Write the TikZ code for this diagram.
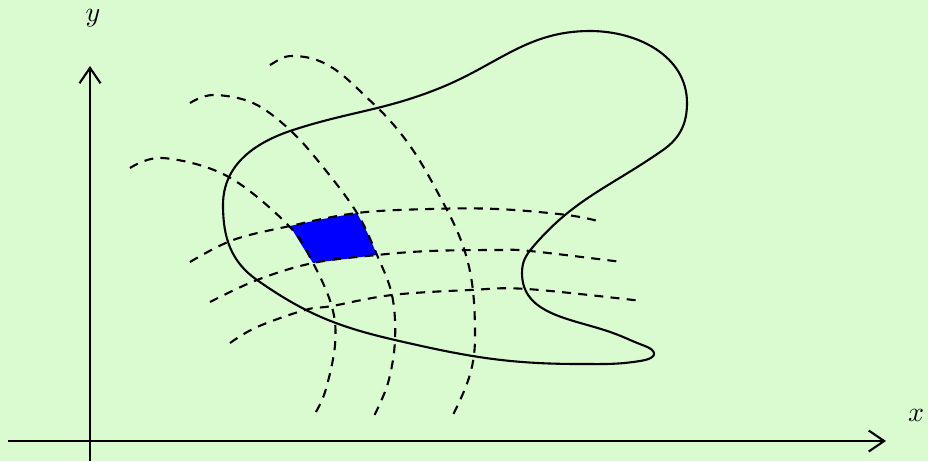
\documentclass[tikz,border=0pt]{standalone}
\usetikzlibrary{arrows.meta}
\definecolor{bgc}{RGB}{218,251,208}
\begin{document}
\begin{tikzpicture}[x=0.357pt,y=-0.357pt,
  curvestyle/.style={line width=0.75pt},
  gridline/.style={line width=0.75pt,dash pattern=on 3.2pt off 2.6pt},
  axisstyle/.style={line width=0.75pt,-{Straight Barb[length=5.5pt,width=7.5pt]}},
  lbl/.style={inner sep=0pt}]
\fill[bgc] (0,0) rectangle (928,461);
\useasboundingbox (0,0) rectangle (928,461);
% blue patch
\fill[blue] (290,226) -- (323,219) -- (357,213) -- (368,234) -- (377,255) -- (345,259) -- (313,263) -- (301,244) -- cycle;
% dashed "vertical" curves
\draw[gridline] plot[smooth,tension=0.6] coordinates {(130,168) (163,158) (227,176) (288,225) (313,263) (332,307) (335,345) (325,392) (313,417)};
\draw[gridline] plot[smooth,tension=0.6] coordinates {(190,103) (213,95) (253,103) (290,130) (323,167) (357,213) (377,255) (392,295) (395,340) (388,383) (373,418)};
\draw[gridline] (270,65) to[out=30,in=180] (292,56) to[out=0,in=138] (377,107) to[out=315,in=118] (447,210) to[out=298,in=90] (475,337) to[out=270,in=64] (451,419);
% dashed "horizontal" curves
\draw[gridline] plot[smooth,tension=0.6] coordinates {(190,262) (233,240) (290,226) (357,213) (430,209) (497,209) (567,215) (602,222)};
\draw[gridline] plot[smooth,tension=0.6] coordinates {(210,302) (257,280) (313,263) (377,255) (430,251) (497,250) (530,251) (622,262)};
\draw[gridline] plot[smooth,tension=0.6] coordinates {(230,343) (257,327) (305,310) (332,306) (392,295) (470,290) (527,289) (642,301)};
% closed curve
\draw[curvestyle] (223,205) to[out=90,in=198] (293,130)
  to[out=18,in=202] (440,88)
  to[out=22,in=180] (590,31)
  to[out=0,in=90] (687,103)
  to[out=270,in=35] (663,150)
  to[out=215,in=50] (532,248)
  to[out=230,in=90] (522,273)
  to[out=270,in=160] (613,333)
  to[out=340,in=160] (645,346)
  .. controls (656,350) and (660,358) .. (640,361)
  to[out=189,in=0] (580,364)
  to[out=180,in=347] (395,340)
  to[out=167,in=325] (257,280)
  to[out=145,in=270] (223,205) -- cycle;
% axes
\coordinate (xs) at (8,441);
\coordinate (xe) at (886,441);
\coordinate (ys) at (90,461);
\coordinate (ye) at (90,66);
\draw[axisstyle] (xs) -- (xe);
\draw[axisstyle] (ys) -- (ye);
\node[lbl] (ylab) at (93,18) {$y$};
\node[lbl] (xlab) at (916,415) {$x$};
\end{tikzpicture}
\end{document}
